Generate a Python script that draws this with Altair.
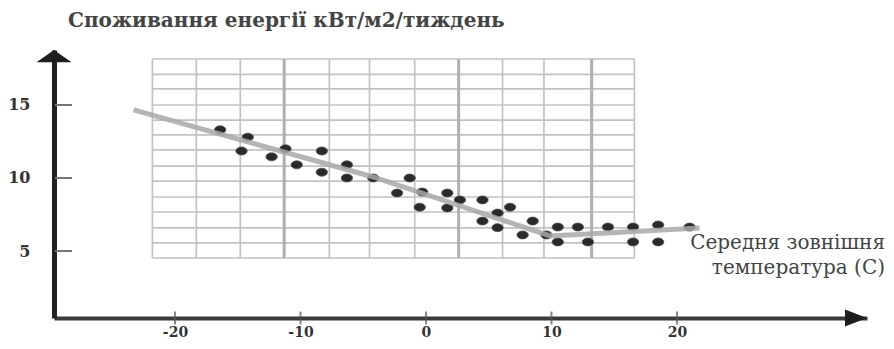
import altair as alt
import pandas as pd

# ---- data ----
point_x = [-16.4, -14.2, -14.7, -12.3, -11.2, -10.3, -8.3, -8.3, -6.3, -6.3,
           -4.2, -1.3, -2.3, -0.3, -0.5, 1.7, 1.7, 2.7, 4.5, 4.5,
           5.7, 5.7, 6.7, 7.7, 8.5, 9.6, 10.5, 10.5, 12.1, 12.9,
           14.5, 16.5, 16.5, 18.5, 18.5, 21.0]
point_y = [13.3, 12.8, 11.85, 11.45, 12.0, 10.9, 11.85, 10.4, 10.9, 10.0,
           10.0, 10.0, 8.97, 9.04, 8.0, 8.97, 7.95, 8.5, 8.5, 7.05,
           7.6, 6.6, 8.0, 6.1, 7.05, 6.1, 6.64, 5.62, 6.64, 5.62,
           6.64, 6.64, 5.62, 6.78, 5.62, 6.64]

trend_x = [-23.3, -4.2, 9.9, 21.8]
trend_y = [14.66, 10.07, 6.03, 6.58]

x_ticks = [-20, -10, 0, 10, 20]
y_ticks = [5, 10, 15]

grid_x_minor = [-21.8, -18.3, -14.8, -7.7, -4.5, -0.9, 6.1, 9.4, 16.6]
grid_x_major = [-11.3, 2.6, 13.2]
grid_y = [18.15, 17.1, 16.1, 15.0, 13.97, 12.95, 11.92, 10.82, 9.79, 8.7,
          7.67, 6.58, 5.55, 4.52]

y_title = "Споживання енергії кВт/м2/тиждень"
x_title = ["Середня зовнішня", "температура (С)"]

# ---- layout ----
W, H = 813, 268
XDOM = [-29.64, 35.14]
YDOM = [0.411, 18.767]
SERIF = "DejaVu Serif"

xs = alt.Scale(domain=XDOM, nice=False, zero=False)
ys = alt.Scale(domain=YDOM, nice=False, zero=False)


def X(field, **kw):
    return alt.X(field, type="quantitative", scale=xs, axis=None, **kw)


def Y(field, **kw):
    return alt.Y(field, type="quantitative", scale=ys, axis=None, **kw)


gx0, gx1 = min(grid_x_minor + grid_x_major), max(grid_x_minor + grid_x_major)
gy0, gy1 = min(grid_y), max(grid_y)

df_vmin = pd.DataFrame({"x": grid_x_minor, "y": gy0, "y2": gy1})
df_vmaj = pd.DataFrame({"x": grid_x_major, "y": gy0, "y2": gy1})
df_h = pd.DataFrame({"y": grid_y, "x": gx0, "x2": gx1})
df_pts = pd.DataFrame({"x": point_x, "y": point_y})
df_line = pd.DataFrame({"x": trend_x, "y": trend_y, "o": range(len(trend_x))})
df_xt = pd.DataFrame({"x": x_ticks})
df_yt = pd.DataFrame({"y": y_ticks})
df_ax = pd.DataFrame({"x": x_ticks[:3], "y": y_ticks})
one = pd.DataFrame({"k": [0]})

# axes layer (invisible marks, real axes)
axes = alt.Chart(df_ax).mark_point(opacity=0).encode(
    x=alt.X("x:Q", scale=xs, axis=alt.Axis(
        values=x_ticks, ticks=False, grid=False, title=None,
        domainColor="#3a3a3a", domainWidth=4,
        labelExpr="'' + datum.value",
        labelFont=SERIF, labelFontWeight="bold", labelFontSize=14,
        labelColor="#333", labelPadding=7)),
    y=alt.Y("y:Q", scale=ys, axis=alt.Axis(
        values=y_ticks, ticks=False, grid=False, title=None,
        domainColor="#222", domainWidth=5,
        labelFont=SERIF, labelFontWeight="bold", labelFontSize=16,
        labelColor="#333", labelPadding=24)),
)

vmin = alt.Chart(df_vmin).mark_rule(color="#c2c2c2", strokeWidth=1.7).encode(
    x=X("x"), y=Y("y"), y2="y2")
vmaj = alt.Chart(df_vmaj).mark_rule(color="#b0b0b0", strokeWidth=3).encode(
    x=X("x"), y=Y("y"), y2="y2")
hl = alt.Chart(df_h).mark_rule(color="#c2c2c2", strokeWidth=1.7).encode(
    x=X("x"), x2="x2", y=Y("y"))

ellipse = "M -1 0 A 1 0.7 0 1 0 1 0 A 1 0.7 0 1 0 -1 0 Z"
pts = alt.Chart(df_pts).mark_point(
    shape=ellipse, filled=True, color="#2a2a2a", opacity=1, size=130,
    stroke="#555", strokeWidth=0.8).encode(x=X("x"), y=Y("y"))

line = alt.Chart(df_line).mark_line(
    color="#a8a8a8", strokeWidth=5, opacity=0.85).encode(
    x=X("x"), y=Y("y"), order="o:Q")

xtk = alt.Chart(df_xt).mark_tick(color="#555", size=13, thickness=2).encode(
    x=X("x"), y=alt.value(H))
ytk = alt.Chart(df_yt).mark_rule(color="#777", strokeWidth=2).encode(
    y=Y("y"), x=alt.value(1), x2=alt.value(18))

arrow_up = alt.Chart(one).mark_point(
    shape="M -1 0.35 L 0 -0.35 L 1 0.35 Z", filled=True, color="#1e1e1e",
    opacity=1, size=1225).encode(x=alt.value(0), y=alt.value(6))
arrow_right = alt.Chart(one).mark_point(
    shape="M -1 -0.77 L 1 0 L -1 0.77 Z", filled=True, color="#1e1e1e",
    opacity=1, size=484).encode(x=alt.value(802), y=alt.value(H))

ttl = alt.Chart(one).mark_text(
    font=SERIF, fontWeight="bold", fontSize=20, color="#444",
    align="left", baseline="middle").encode(
    text=alt.value(y_title), x=alt.value(14), y=alt.value(-29))

xttl = alt.Chart(one).mark_text(
    font=SERIF, fontSize=20, color="#444", align="right",
    baseline="middle", lineHeight=25).encode(
    text=alt.value(x_title), x=alt.value(831), y=alt.value(193))

chart = alt.layer(
    axes, vmin, hl, vmaj, pts, line, xtk, ytk, arrow_up, arrow_right, ttl, xttl
).resolve_axis(
    x="independent", y="independent"
).properties(
    width=W, height=H,
    autosize=alt.AutoSizeParams(type="none"),
    padding={"left": 46, "top": 42, "right": 19, "bottom": 23},
    background="white",
).configure_view(stroke=None)

chart.save("out.html", embed_options={"renderer": "svg", "actions": False})
